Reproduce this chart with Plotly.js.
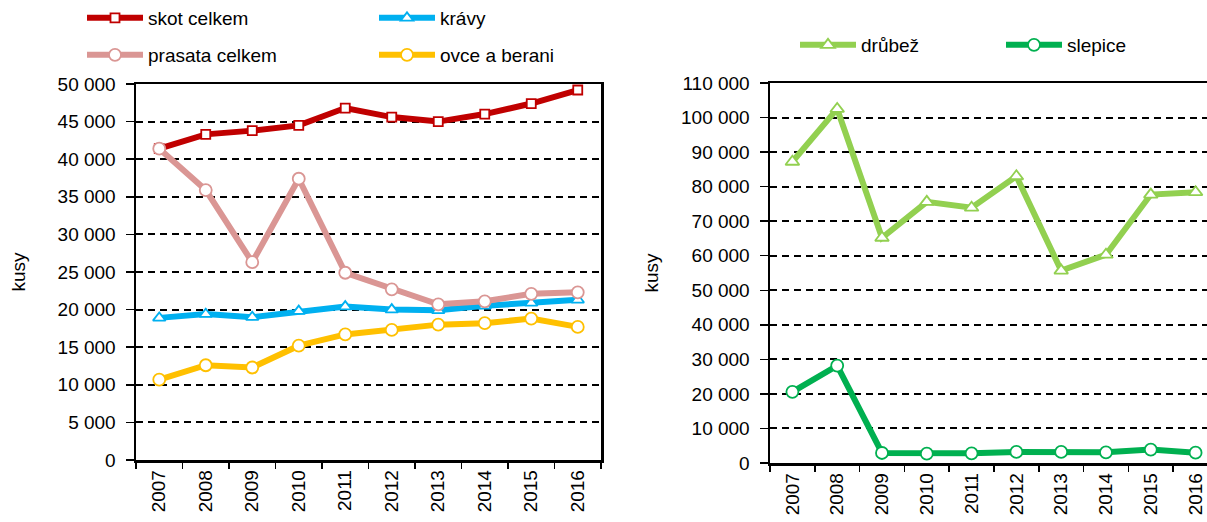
<!DOCTYPE html>
<html>
<head>
<meta charset="utf-8">
<script src="https://cdn.plot.ly/plotly-3.0.1.min.js"></script>
<style>html,body{margin:0;padding:0;background:#fff;overflow:hidden;}#chart{width:1207px;height:522px;}</style>
</head>
<body>
<div id="chart"></div>
<script>
const years = ["2007","2008","2009","2010","2011","2012","2013","2014","2015","2016"];
const skotCelkem = [41400, 43300, 43800, 44500, 46800, 45600, 45000, 46000, 47400, 49200];
const kravy = [18900, 19400, 19000, 19800, 20400, 20000, 19900, 20500, 20900, 21300];
const prasataCelkem = [41400, 35900, 26300, 37400, 24900, 22700, 20700, 21100, 22100, 22300];
const ovceBerani = [10700, 12600, 12300, 15200, 16700, 17300, 18000, 18200, 18800, 17700];
const drubez = [87200, 102500, 65200, 75600, 73900, 83000, 55700, 60300, 77700, 78400];
const slepice = [20600, 28200, 2900, 2700, 2800, 3200, 3200, 3100, 3900, 3000];

const FONT = "Liberation Sans, Arial, sans-serif";
const FS = 19;

function series(name, y, color, symbol, size, xa, ya, legend) {
  return {
    type: "scatter", mode: "lines+markers", name: name, x: years, y: y,
    xaxis: xa, yaxis: ya, legend: legend,
    line: {color: color, width: 6},
    marker: {symbol: symbol, size: size, color: "#ffffff", line: {color: color, width: 1.8}}
  };
}

const traces = [
  series("skot celkem", skotCelkem, "#C00000", "square", 9, "x", "y", "legend"),
  series("krávy", kravy, "#00B0F0", "triangle-up", 11, "x", "y", "legend"),
  series("prasata celkem", prasataCelkem, "#DA9694", "circle", 12, "x", "y", "legend2"),
  series("ovce a berani", ovceBerani, "#FFC000", "circle", 12, "x", "y", "legend2"),
  series("drůbež", drubez, "#92D050", "triangle-up", 12, "x2", "y2", "legend3"),
  series("slepice", slepice, "#00B050", "circle", 12, "x2", "y2", "legend4")
];

const W = 1207, H = 522;
const xCommon = {
  type: "category", tickangle: -90, ticks: "outside", ticklen: 6, tickwidth: 1.5, tickcolor: "#000",
  tickson: "boundaries", showline: true, linewidth: 2.5, linecolor: "#000", mirror: true,
  showgrid: false, zeroline: false, tickfont: {family: FONT, size: FS, color: "#000"}, automargin: false
};
const yCommon = {
  ticks: "outside", ticklen: 8, tickwidth: 1.5, tickcolor: "#000", ticklabelstandoff: 6,
  showline: true, linewidth: 2.5, linecolor: "#000", mirror: true,
  showgrid: true, gridcolor: "#000", gridwidth: 2, griddash: "7px,5px", zeroline: false,
  tickformat: ",d", tickfont: {family: FONT, size: FS, color: "#000"}, automargin: false
};
const legendCommon = {
  orientation: "h", xanchor: "left", yanchor: "middle", bgcolor: "rgba(0,0,0,0)",
  font: {family: FONT, size: FS, color: "#000"}, itemwidth: 56, itemclick: false
};
const yTitle = (standoff) => ({text: "kusy", font: {family: FONT, size: FS, color: "#000"}, standoff: standoff});

const layout = {
  width: W, height: H, margin: {l: 0, r: 0, t: 0, b: 0, autoexpand: false},
  paper_bgcolor: "#fff", plot_bgcolor: "#fff", separators: ", ",
  font: {family: FONT, size: FS, color: "#000"},
  xaxis: Object.assign({}, xCommon, {domain: [136 / W, 601 / W], anchor: "y", range: [-0.5, 9.5]}),
  yaxis: Object.assign({}, yCommon, {domain: [1 - 460 / H, 1 - 84 / H], range: [0, 50000], dtick: 5000, anchor: "x", title: yTitle(27)}),
  xaxis2: Object.assign({}, xCommon, {domain: [770 / W, 1], anchor: "y2", range: [-0.5, 9.255]}),
  yaxis2: Object.assign({}, yCommon, {domain: [1 - 463 / H, 1 - 83 / H], range: [0, 110000], dtick: 10000, anchor: "x2", title: yTitle(18)}),
  legend: Object.assign({}, legendCommon, {x: 82 / W, y: 1 - 18 / H, entrywidth: 221}),
  legend2: Object.assign({}, legendCommon, {x: 82 / W, y: 1 - 55 / H, entrywidth: 221}),
  legend3: Object.assign({}, legendCommon, {x: 795 / W, y: 1 - 45 / H}),
  legend4: Object.assign({}, legendCommon, {x: 1001 / W, y: 1 - 45 / H}),
  showlegend: true
};

Plotly.newPlot("chart", traces, layout, {staticPlot: true, displayModeBar: false});
</script>
</body>
</html>
